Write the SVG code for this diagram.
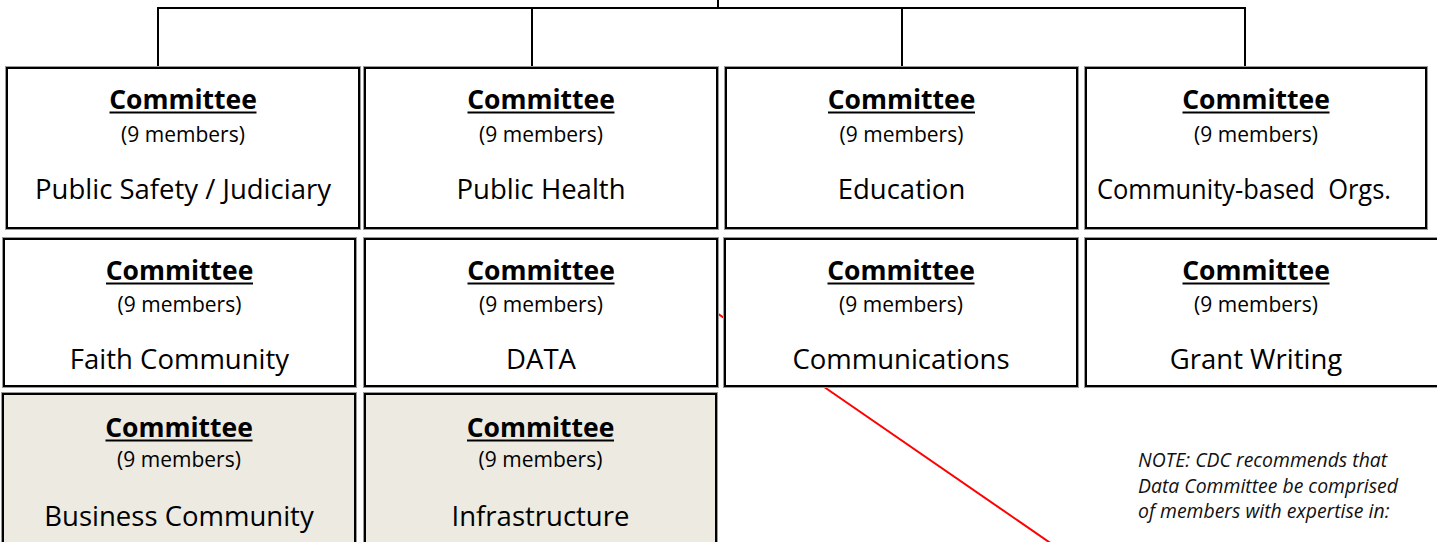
<svg xmlns="http://www.w3.org/2000/svg" width="1437" height="542" viewBox="0 0 1437 542">
<style>
  .bg{fill:#fff}
  .halo{fill:none;stroke:#9a9a9a;stroke-width:1}
  .box{fill:#fff;stroke:#000;stroke-width:2}
  .box2{fill:#ECEAE1;stroke:#000;stroke-width:2}
  .conn{fill:none;stroke:#000;stroke-width:2}
  .red{fill:none;stroke:#FF0000;stroke-width:2}
  .ttl{font-family:"Open Sans","DejaVu Sans",sans-serif;font-weight:bold;font-size:26.5px;text-anchor:middle;fill:#000}
  .ul{stroke:#000;stroke-width:2}
  .mem{font-family:"Open Sans","DejaVu Sans",sans-serif;font-size:21px;text-anchor:middle;fill:#000}
  .lbl{font-family:"Open Sans","DejaVu Sans",sans-serif;font-size:27.5px;text-anchor:middle;fill:#000}
  .note{font-family:"Open Sans","DejaVu Sans",sans-serif;font-style:italic;font-size:19.4px;fill:#111}
</style>
<rect class="bg" x="0" y="0" width="1437" height="542"/>
<g id="connectors">
  <line class="red" x1="640" y1="260" x2="1062" y2="551"/>
  <path class="conn" d="M718,0 V8 M158,68 V8 H1245 V68 M532,8 V68 M902,8 V68"/>
</g>
<g id="n1">
  <rect class="halo" x="5.5" y="66.5" width="355" height="163"/>
  <rect class="box" x="7" y="68" width="352" height="160"/>
  <text class="ttl" x="183" y="109">Committee</text><line class="ul" x1="109.5" y1="112.5" x2="256.5" y2="112.5"/>
  <text class="mem" x="183" y="141.5">(9 members)</text>
  <text class="lbl" x="183" y="198.5">Public Safety / Judiciary</text>
</g>
<g id="n2">
  <rect class="halo" x="363.5" y="66.5" width="355" height="163"/>
  <rect class="box" x="365" y="68" width="352" height="160"/>
  <text class="ttl" x="541" y="109">Committee</text><line class="ul" x1="467.5" y1="112.5" x2="614.5" y2="112.5"/>
  <text class="mem" x="541" y="141.5">(9 members)</text>
  <text class="lbl" x="541" y="198.5">Public Health</text>
</g>
<g id="n3">
  <rect class="halo" x="724.5" y="66.5" width="354" height="163"/>
  <rect class="box" x="726" y="68" width="351" height="160"/>
  <text class="ttl" x="901.5" y="109">Committee</text><line class="ul" x1="828" y1="112.5" x2="975" y2="112.5"/>
  <text class="mem" x="901.5" y="141.5">(9 members)</text>
  <text class="lbl" x="901.5" y="198.5">Education</text>
</g>
<g id="n4">
  <rect class="halo" x="1084.5" y="66.5" width="343" height="163"/>
  <rect class="box" x="1086" y="68" width="340" height="160"/>
  <text class="ttl" x="1256" y="109">Committee</text><line class="ul" x1="1182.5" y1="112.5" x2="1329.5" y2="112.5"/>
  <text class="mem" x="1256" y="141.5">(9 members)</text>
  <text class="lbl" x="1097" y="198.5" style="text-anchor:start" textLength="294" lengthAdjust="spacingAndGlyphs" xml:space="preserve">Community-based  Orgs.</text>
</g>
<g id="n5">
  <rect class="halo" x="2.5" y="237.5" width="354" height="150"/>
  <rect class="box" x="4" y="239" width="351" height="147"/>
  <text class="ttl" x="179.5" y="280">Committee</text><line class="ul" x1="106" y1="283.5" x2="253" y2="283.5"/>
  <text class="mem" x="179.5" y="312">(9 members)</text>
  <text class="lbl" x="179.5" y="369">Faith Community</text>
</g>
<g id="n6">
  <rect class="halo" x="363.5" y="237.5" width="355" height="150"/>
  <rect class="box" x="365" y="239" width="352" height="147"/>
  <text class="ttl" x="541" y="280">Committee</text><line class="ul" x1="467.5" y1="283.5" x2="614.5" y2="283.5"/>
  <text class="mem" x="541" y="312">(9 members)</text>
  <text class="lbl" x="541" y="369">DATA</text>
</g>
<g id="n7">
  <rect class="halo" x="723.5" y="237.5" width="355" height="150"/>
  <rect class="box" x="725" y="239" width="352" height="147"/>
  <text class="ttl" x="901" y="280">Committee</text><line class="ul" x1="827.5" y1="283.5" x2="974.5" y2="283.5"/>
  <text class="mem" x="901" y="312">(9 members)</text>
  <text class="lbl" x="901" y="369">Communications</text>
</g>
<g id="n8">
  <rect class="halo" x="1084.5" y="237.5" width="363" height="150"/>
  <rect class="box" x="1086" y="239" width="360" height="147"/>
  <text class="ttl" x="1256" y="280">Committee</text><line class="ul" x1="1182.5" y1="283.5" x2="1329.5" y2="283.5"/>
  <text class="mem" x="1256" y="312">(9 members)</text>
  <text class="lbl" x="1256" y="369">Grant Writing</text>
</g>
<g id="n9">
  <rect class="halo" x="1.5" y="392.5" width="355" height="163"/>
  <rect class="box2" x="3" y="394" width="352" height="160"/>
  <text class="ttl" x="179" y="437">Committee</text><line class="ul" x1="105.5" y1="440.5" x2="252.5" y2="440.5"/>
  <text class="mem" x="179" y="467">(9 members)</text>
  <text class="lbl" x="179" y="526">Business Community</text>
</g>
<g id="n10">
  <rect class="halo" x="363.5" y="392.5" width="354" height="163"/>
  <rect class="box2" x="365" y="394" width="351" height="160"/>
  <text class="ttl" x="540.5" y="437">Committee</text><line class="ul" x1="467" y1="440.5" x2="614" y2="440.5"/>
  <text class="mem" x="540.5" y="467">(9 members)</text>
  <text class="lbl" x="540.5" y="526">Infrastructure</text>
</g>
<g id="note">
  <text class="note" x="1138" y="467">NOTE: CDC recommends that</text>
  <text class="note" x="1138" y="493">Data Committee be comprised</text>
  <text class="note" x="1138" y="518">of members with expertise in:</text>
</g>
</svg>
